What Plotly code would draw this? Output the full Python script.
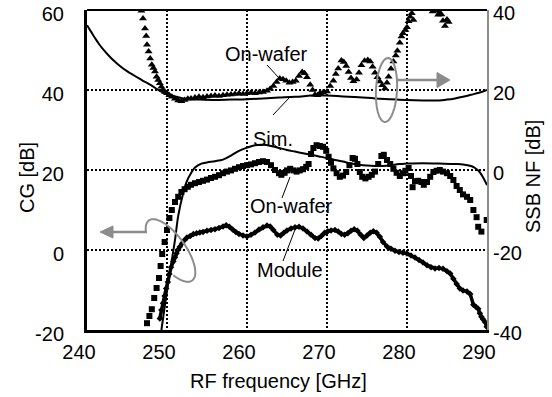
import numpy as np
import plotly.graph_objects as go

# ---------------- data ----------------
# Simulated SSB NF (right axis)
sim_nf_f = [240, 240.5, 241, 241.5, 242, 243, 244, 245, 246, 247, 248, 249, 250, 251, 252, 253, 254,
            256, 258, 260, 262, 264, 266, 268, 269, 270, 272, 274, 276, 278, 280, 282, 284, 285,
            286, 287, 288, 289, 290]
sim_nf = [36.2, 34.6, 33.0, 31.5, 30.2, 28.0, 26.2, 24.7, 23.5, 22.3, 21.2, 19.9, 19.0, 18.4, 17.9, 17.7, 17.6,
          17.5, 17.6, 17.7, 17.9, 18.1, 18.3, 18.6, 18.7, 18.6, 18.4, 18.2, 17.9, 17.7, 17.5, 17.4, 17.4, 17.6,
          17.9, 18.3, 18.8, 19.3, 20.0]

# On-wafer SSB NF (right axis, triangles)
wafer_nf_f = [246.8, 247.0, 247.25, 247.4, 247.5, 247.7, 247.9, 248.1, 248.3, 248.5, 248.7, 248.9, 249.1,
              249.3, 249.5, 249.75, 250.0, 250.3, 250.6, 251.0, 251.4, 251.8, 252.2, 252.6, 253.0, 253.5,
              254.0, 254.5, 255.0, 255.5, 256.0, 256.5, 257.0, 257.5, 258.0, 258.5, 259.0, 259.5, 260.0,
              260.5, 261.0, 261.5, 262.0, 262.5, 262.9, 263.3, 263.7, 264.1, 264.5, 264.9, 265.3, 265.7,
              266.1, 266.5, 266.9, 267.2, 267.5, 267.9, 268.2, 268.5, 268.8, 269.1, 269.5, 270.0, 270.4,
              270.8, 271.1, 271.4, 271.8, 272.1, 272.4, 272.7, 273.0, 273.3, 273.7, 274.0, 274.3, 274.7,
              275.1, 275.4, 275.7, 276.0, 276.3, 276.6, 276.9, 277.25, 277.5, 277.7, 278.0, 278.3, 278.6,
              278.8, 279.1, 279.3, 279.5, 279.8, 280.0, 280.2, 280.4, 280.6, 280.8, 283.2, 283.6, 283.9,
              284.1, 284.3, 284.5, 284.75, 285.0, 285.2]
wafer_nf = [39.8, 37.9, 35.4, 33.5, 31.3, 29.6, 27.9, 26.3, 25.5, 24.6, 23.3, 22.5, 21.7,
            20.8, 20.0, 19.5, 19.2, 18.7, 18.3, 17.8, 17.4, 17.2, 17.5, 17.8, 17.9, 18.1,
            18.3, 18.2, 18.4, 18.5, 18.6, 18.5, 18.7, 18.8, 18.9, 19.0, 19.1, 19.0, 19.2,
            19.3, 19.2, 19.4, 19.5, 19.8, 20.3, 21.0, 22.0, 22.9, 22.7, 22.3, 21.8, 22.0,
            22.3, 23.5, 24.5, 24.2, 23.2, 21.3, 20.0, 18.8, 18.7, 19.2, 19.4, 19.6, 21.0,
            22.3, 24.0, 25.4, 27.4, 27.0, 26.0, 24.5, 23.0, 22.2, 22.6, 24.3, 26.2, 27.3,
            27.5, 27.1, 25.8, 24.3, 23.2, 22.1, 21.2, 20.4, 21.8, 23.3, 25.3, 27.1, 28.6,
            29.8, 31.8, 33.4, 34.2, 35.0, 35.7, 37.2, 38.3, 39.2, 37.5, 39.6, 39.8, 38.8,
            39.3, 38.9, 37.3, 36.0, 37.6, 37.0]

# Simulated CG (left axis)
sim_cg_f = [249.3, 249.8, 250.4, 251.0, 251.4, 252.0, 252.5, 253.0, 253.5, 254.3, 255, 256, 257, 258,
            259, 260, 261, 262, 263, 264, 265, 266, 267, 268, 269, 270, 271, 272, 273, 274, 275, 276,
            277, 278, 279, 280, 282, 284, 286, 287, 288, 288.5, 289, 289.5, 290]
sim_cg = [-20.0, -13.0, -5.0, 2.5, 8.5, 14.0, 17.3, 19.2, 20.6, 21.6, 21.9, 22.2, 22.6, 23.6,
          24.8, 25.6, 26.2, 26.3, 26.0, 25.5, 25.0, 24.6, 24.2, 23.8, 23.4, 23.0, 22.5, 22.1, 21.6,
          21.3, 21.1, 21.0, 21.0, 21.2, 21.5, 21.6, 21.7, 21.6, 21.5, 21.4, 21.0, 20.5, 19.7, 18.2, 16.2]

# On-wafer CG (left axis, squares)
wafer_cg_f = [247.5, 247.8, 248.1, 248.4, 248.7, 249.0, 249.2, 249.4, 249.7, 250.0, 250.3, 250.6, 251.0,
              251.4, 251.8, 252.2, 252.6, 253.0, 253.5, 254.0, 254.5, 255.0, 255.5, 256.0, 256.5, 257.0,
              257.5, 258.0, 258.5, 259.0, 259.5, 260.0, 260.5, 261.0, 261.5, 262.0, 262.5, 263.0, 263.5,
              264.0, 264.3, 264.7, 265.0, 265.4, 265.8, 266.2, 266.6, 267.0, 267.4, 267.7, 268.0, 268.3,
              268.7, 269.1, 269.5, 269.9, 270.2, 270.5, 270.8, 271.2, 271.6, 272.0, 272.4, 272.8, 273.2,
              273.5, 273.8, 274.1, 274.4, 274.8, 275.2, 275.6, 276.0, 276.4, 276.8, 277.1, 277.5, 277.9,
              278.3, 278.7, 279.1, 279.5, 279.8, 280.2, 280.5, 280.7, 281.0, 281.4, 281.8, 282.1, 282.5,
              282.9, 283.3, 283.7, 284.1, 284.5, 285.0, 285.4, 285.8, 286.2, 286.6, 287.0, 287.5, 287.9,
              288.3, 288.7, 288.9, 289.3, 289.96]
wafer_cg = [-18.3, -16.5, -14.8, -12.0, -9.5, -7.0, -4.0, -1.0, 2.0, 5.0, 8.0, 10.0, 12.0,
            13.3, 14.5, 15.2, 15.8, 16.3, 16.7, 17.0, 17.3, 17.6, 18.0, 18.3, 18.7, 19.2,
            19.6, 19.9, 20.3, 20.7, 21.0, 21.2, 21.4, 21.7, 22.0, 22.2, 22.0, 21.2, 20.0,
            19.2, 18.8, 19.3, 19.9, 20.3, 19.9, 19.6, 19.9, 20.2, 20.8, 21.5, 24.0, 25.5,
            26.2, 26.0, 25.8, 24.8, 23.3, 21.8, 20.4, 19.2, 18.3, 18.6, 19.5, 21.2, 23.0,
            22.8, 21.5, 19.5, 18.3, 17.9, 18.3, 18.8, 19.6, 21.5, 23.5, 23.8, 22.5, 21.5,
            20.3, 19.3, 18.5, 19.2, 19.8, 20.5, 18.5, 15.7, 17.2, 17.3, 17.0, 16.3, 17.0,
            18.3, 19.5, 19.8, 20.0, 19.6, 19.2, 18.5, 17.5, 16.0, 15.0, 13.9, 13.3, 12.5,
            10.0, 8.2, 5.8, 4.6, 7.5]

# Module CG (left axis, diamonds)
module_cg_f = [249.1, 249.3, 249.5, 249.7, 249.9, 250.1, 250.3, 250.5, 250.8, 251.0, 251.2, 251.4, 251.6,
               251.9, 252.2, 252.5, 252.9, 253.3, 253.7, 254.1, 254.5, 255.0, 255.5, 256.0, 256.5, 257.0,
               257.4, 257.8, 258.2, 258.6, 259.0, 259.5, 260.0, 260.5, 261.0, 261.5, 262.0, 262.5, 262.9,
               263.3, 263.8, 264.2, 264.6, 265.0, 265.5, 266.0, 266.5, 267.0, 267.5, 268.0, 268.5, 268.9,
               269.3, 269.7, 270.1, 270.5, 271.0, 271.4, 271.8, 272.2, 272.6, 273.0, 273.4, 273.8, 274.2,
               274.6, 275.0, 275.4, 275.8, 276.2, 276.6, 277.0, 277.5, 278.0, 278.5, 279.0, 279.5, 280.0,
               280.5, 281.0, 281.5, 282.0, 282.5, 283.0, 283.5, 284.0, 284.5, 285.0, 285.4, 285.8, 286.2,
               286.6, 287.0, 287.5, 287.9, 288.3, 288.6, 288.9, 289.1, 289.3, 289.5, 289.75, 289.96]
module_cg = [-17.1, -15.0, -13.3, -11.5, -9.6, -8.0, -6.0, -4.3, -2.9, -1.8, -0.8, 0.1, 0.8,
             1.7, 2.5, 3.1, 3.5, 4.0, 4.2, 4.4, 4.5, 4.8, 5.0, 5.2, 5.5, 5.9,
             6.2, 5.8, 5.1, 4.5, 4.0, 3.6, 3.4, 3.8, 4.4, 5.1, 5.7, 6.1, 5.9,
             5.0, 3.8, 3.6, 4.3, 4.9, 5.4, 5.7, 5.8, 5.4, 4.6, 3.8, 3.0, 2.9,
             3.5, 4.3, 4.7, 4.9, 5.0, 4.6, 4.0, 3.8, 4.2, 4.8, 5.2, 4.8, 3.8,
             3.0, 3.6, 4.3, 4.7, 4.3, 3.3, 2.0, 0.9, 0.3, -0.2, -0.5, -0.7, -0.9,
             -1.4, -1.9, -2.5, -3.1, -3.8, -4.3, -4.6, -4.5, -4.7, -5.3, -5.9, -7.2, -8.5,
             -9.6, -10.1, -10.4, -11.0, -13.7, -14.2, -14.7, -15.8, -16.7, -17.3, -18.0, -19.2]

x_ticks = [240, 250, 260, 270, 280, 290]
cg_ticks = [-20, 0, 20, 40, 60]
cg_tick_text = ["-20", "0", "20", "40", "60"]
nf_ticks = [-40, -20, 0, 20, 40]
nf_tick_text = ["-40", "-20", "0", "20", "40"]

# ---------------- layout geometry ----------------
W, H = 552, 397
ML, MR, MT, MB = 87, 65, 10, 67
PW, PH = W - ML - MR, H - MT - MB
FONT = "Liberation Sans, Arial, sans-serif"
GRAY = "#8c8c8c"


def P(px, py):
    """pixel -> paper coordinates"""
    return (px - ML) / PW, (H - MB - py) / PH


def path_from(points, close=False):
    s = "M " + " L ".join(f"{P(x, y)[0]:.5f},{P(x, y)[1]:.5f}" for x, y in points)
    return s + (" Z" if close else "")


def ellipse_pts(cx, cy, a, b, ux, uy, t0, t1, n=60):
    vx, vy = -uy, ux
    out = []
    for t in np.linspace(t0, t1, n):
        out.append((cx + a * np.cos(t) * ux + b * np.sin(t) * vx,
                    cy + a * np.cos(t) * uy + b * np.sin(t) * vy))
    return out


fig = go.Figure()

fig.add_trace(go.Scatter(x=sim_nf_f, y=sim_nf, yaxis="y2", mode="lines",
                         line=dict(color="black", width=2), name="Sim. NF", line_shape="spline"))
fig.add_trace(go.Scatter(x=wafer_nf_f, y=wafer_nf, yaxis="y2", mode="markers",
                         marker=dict(symbol="triangle-up", size=7, color="black"), name="On-wafer NF"))
fig.add_trace(go.Scatter(x=sim_cg_f, y=sim_cg, mode="lines",
                         line=dict(color="black", width=2), name="Sim. CG", line_shape="spline"))
fig.add_trace(go.Scatter(x=wafer_cg_f, y=wafer_cg, mode="markers",
                         marker=dict(symbol="square", size=6, color="black"), name="On-wafer CG"))
fig.add_trace(go.Scatter(x=module_cg_f, y=module_cg, mode="markers+lines",
                         line=dict(color="black", width=3.5),
                         marker=dict(symbol="diamond", size=5, color="black"), name="Module CG"))

shapes = []
# top border
shapes.append(dict(type="line", xref="paper", yref="paper", x0=0, x1=1, y0=1, y1=1,
                   line=dict(color="black", width=2)))
# leader lines
for (x0, y0, x1, y1) in [(267, 65, 279, 78), (273, 115, 289, 98), (272, 143, 281, 150),
                         (290, 177, 282, 198), (296, 227, 283, 261)]:
    a, b = P(x0, y0)
    c, d = P(x1, y1)
    shapes.append(dict(type="line", xref="paper", yref="paper", x0=a, y0=b, x1=c, y1=d,
                       line=dict(color="black", width=1)))
# right ellipse + arrow
shapes.append(dict(type="path", xref="paper", yref="paper",
                   path=path_from(ellipse_pts(386.5, 90, 32, 10.5, 0.052, -0.999, 0, 2 * np.pi), close=True),
                   line=dict(color=GRAY, width=2)))
a, b = P(397, 80); c, d = P(438, 80)
shapes.append(dict(type="line", xref="paper", yref="paper", x0=a, y0=b, x1=c, y1=d,
                   line=dict(color=GRAY, width=2.5)))
shapes.append(dict(type="path", xref="paper", yref="paper",
                   path=path_from([(437, 72.5), (450, 80), (437, 87.5)], close=True),
                   fillcolor=GRAY, line=dict(color=GRAY, width=1)))
# left open ellipse + arrow
shapes.append(dict(type="path", xref="paper", yref="paper",
                   path=path_from(ellipse_pts(170.5, 250.5, 37, 15, 0.584, 0.812,
                                              0.78 * np.pi, 2.3 * np.pi)),
                   line=dict(color=GRAY, width=2)))
a, b = P(147, 232); c, d = P(112, 232)
shapes.append(dict(type="line", xref="paper", yref="paper", x0=a, y0=b, x1=c, y1=d,
                   line=dict(color=GRAY, width=2.5)))
shapes.append(dict(type="path", xref="paper", yref="paper",
                   path=path_from([(113, 226), (100, 232), (113, 238)], close=True),
                   fillcolor=GRAY, line=dict(color=GRAY, width=1)))

annotations = []
for text, px, py in [("On-wafer", 266.5, 54), ("Sim.", 273, 139), ("On-wafer", 291, 206),
                     ("Module", 290, 270)]:
    x, y = P(px, py)
    annotations.append(dict(text=text, x=x, y=y, xref="paper", yref="paper", showarrow=False,
                            xanchor="center", yanchor="middle", font=dict(size=20, color="black")))
# axis titles
x, y = P(278, 381)
annotations.append(dict(text="RF frequency [GHz]", x=x, y=y, xref="paper", yref="paper", showarrow=False,
                        xanchor="center", yanchor="middle", font=dict(size=20, color="black")))
x, y = P(27, 178)
annotations.append(dict(text="CG [dB]", x=x, y=y, xref="paper", yref="paper", showarrow=False,
                        textangle=-90, xanchor="center", yanchor="middle", font=dict(size=20, color="black")))
x, y = P(533, 177)
annotations.append(dict(text="SSB NF [dB]", x=x, y=y, xref="paper", yref="paper", showarrow=False,
                        textangle=-90, xanchor="center", yanchor="middle", font=dict(size=20, color="black")))

fig.update_layout(
    width=W, height=H,
    margin=dict(l=ML, r=MR, t=MT, b=MB, pad=0, autoexpand=False),
    paper_bgcolor="white", plot_bgcolor="white",
    showlegend=False,
    font=dict(family=FONT, size=20, color="black"),
    xaxis=dict(range=[240, 290], tickvals=x_ticks, showgrid=True, gridcolor="black",
               griddash="2px,2px", gridwidth=2, showline=True, linecolor="black", linewidth=3,
               zeroline=False, ticks="", ticklabelstandoff=2, ticklabelshift=-8,
               ticklabeloverflow="allow", automargin=False, tickfont=dict(size=20)),
    yaxis=dict(range=[-20, 60], tickvals=cg_ticks, ticktext=cg_tick_text, showgrid=True, gridcolor="black",
               griddash="2px,2px", gridwidth=2, showline=True, linecolor="black", linewidth=3,
               zeroline=False, ticks="", ticklabelstandoff=16, ticklabelshift=4, ticklabeloverflow="allow",
               automargin=False, tickfont=dict(size=20)),
    yaxis2=dict(range=[-40, 40], tickvals=nf_ticks, ticktext=nf_tick_text, overlaying="y", side="right",
                showgrid=False, showline=True, linecolor=GRAY, linewidth=2, zeroline=False, ticks="",
                ticklabelstandoff=0, ticklabelshift=3, ticklabeloverflow="allow", automargin=False,
                tickfont=dict(size=20)),
    shapes=shapes,
    annotations=annotations,
)

fig.write_html("out.html")
